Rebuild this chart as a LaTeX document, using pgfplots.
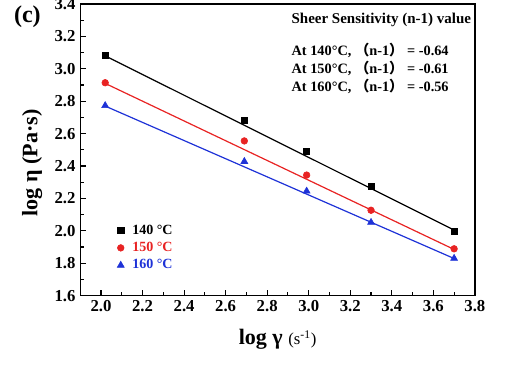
\documentclass[border=0pt]{standalone}
\usepackage{fontspec}
\setmainfont{Liberation Serif}
\newfontfamily\cjk{Noto Sans CJK SC}
\usepackage{pgfplots}
\pgfplotsset{compat=1.18}
\definecolor{myred}{RGB}{232,35,35}
\definecolor{myblue}{RGB}{30,50,215}
\begin{document}
\begin{tikzpicture}
\begin{axis}[
  scale only axis, width=295pt, height=218pt,
  xmin=1.9, xmax=3.8, ymin=1.6, ymax=3.4,
  xtick={2.0,2.2,2.4,2.6,2.8,3.0,3.2,3.4,3.6,3.8},
  ytick={1.6,1.8,2.0,2.2,2.4,2.6,2.8,3.0,3.2,3.4},
  minor x tick num=1, minor y tick num=1,
  tick pos=left, tick align=inside,
  major tick length=4pt, minor tick length=2.5pt,
  axis line style={line width=1pt},
  every tick/.style={line width=0.8pt, black},
  tick label style={font=\bfseries\fontsize{12.5}{14}\selectfont},
  /pgf/number format/fixed, /pgf/number format/fixed zerofill,
  /pgf/number format/precision=1, /pgf/number format/assume math mode=true,
  xlabel={\textbf{log γ} {\fontsize{12.5}{14}\selectfont (s\textsuperscript{-1})}},
  ylabel={\textbf{log η (Pa·s)}},
  label style={font=\fontsize{16.5}{18}\selectfont},
  xlabel style={at={(rel axis cs:0.5,-0.148)}, anchor=center},
  ylabel style={at={(rel axis cs:-0.122,0.455)}, anchor=center},
  legend style={draw=none, fill=none, at={(rel axis cs:0.083,0.262)}, anchor=north west,
    font=\bfseries\fontsize{10.5}{12}\selectfont, row sep=0.5pt},
  legend cell align=left,
  clip=false,
]
% fitted lines
\addplot[black, line width=0.9pt, forget plot] coordinates {(2.02,3.08) (3.70,2.005)};
\addplot[myred, line width=0.9pt, forget plot] coordinates {(2.02,2.91) (3.70,1.885)};
\addplot[myblue, line width=0.9pt, forget plot] coordinates {(2.02,2.77) (3.70,1.829)};
% data
\addplot[only marks, mark=square*, mark size=2.3pt, black] coordinates {
 (2.02,3.085) (2.69,2.681) (2.99,2.489) (3.30,2.276) (3.70,1.998)};
\addlegendentry{\hspace{4pt}140 °C}
\addplot[only marks, mark=*, mark size=2.5pt, myred] coordinates {
 (2.02,2.914) (2.69,2.555) (2.99,2.344) (3.30,2.127) (3.70,1.889)};
\addlegendentry{\hspace{4pt}\textcolor{myred}{150 °C}}
\addplot[only marks, mark=triangle*, mark size=3pt, myblue] coordinates {
 (2.02,2.773) (2.69,2.428) (2.99,2.245) (3.30,2.052) (3.70,1.830)};
\addlegendentry{\hspace{4pt}\textcolor{myblue}{160 °C}}
% annotations
\node[anchor=west, font=\bfseries\fontsize{11.2}{13}\selectfont, inner sep=0pt] at (rel axis cs:0.535,0.945) {Sheer Sensitivity (n-1) value};
\node[anchor=west, font=\bfseries\fontsize{10.7}{12}\selectfont, inner sep=0pt] at (rel axis cs:0.535,0.842) {At 140°C, {\cjk （}n-1{\cjk ）} = -0.64};
\node[anchor=west, font=\bfseries\fontsize{10.7}{12}\selectfont, inner sep=0pt] at (rel axis cs:0.535,0.780) {At 150°C, {\cjk （}n-1{\cjk ）} = -0.61};
\node[anchor=west, font=\bfseries\fontsize{10.7}{12}\selectfont, inner sep=0pt] at (rel axis cs:0.535,0.718) {At 160°C, {\cjk （}n-1{\cjk ）} = -0.56};
\node[font=\bfseries\fontsize{18}{20}\selectfont] at (rel axis cs:-0.134,0.958) {(c)};
\end{axis}
\pgfresetboundingbox
\path[use as bounding box] ([shift={(-60pt,-59.25pt)}]current axis.south west) rectangle ([shift={(29.25pt,3pt)}]current axis.north east);
\end{tikzpicture}
\end{document}
